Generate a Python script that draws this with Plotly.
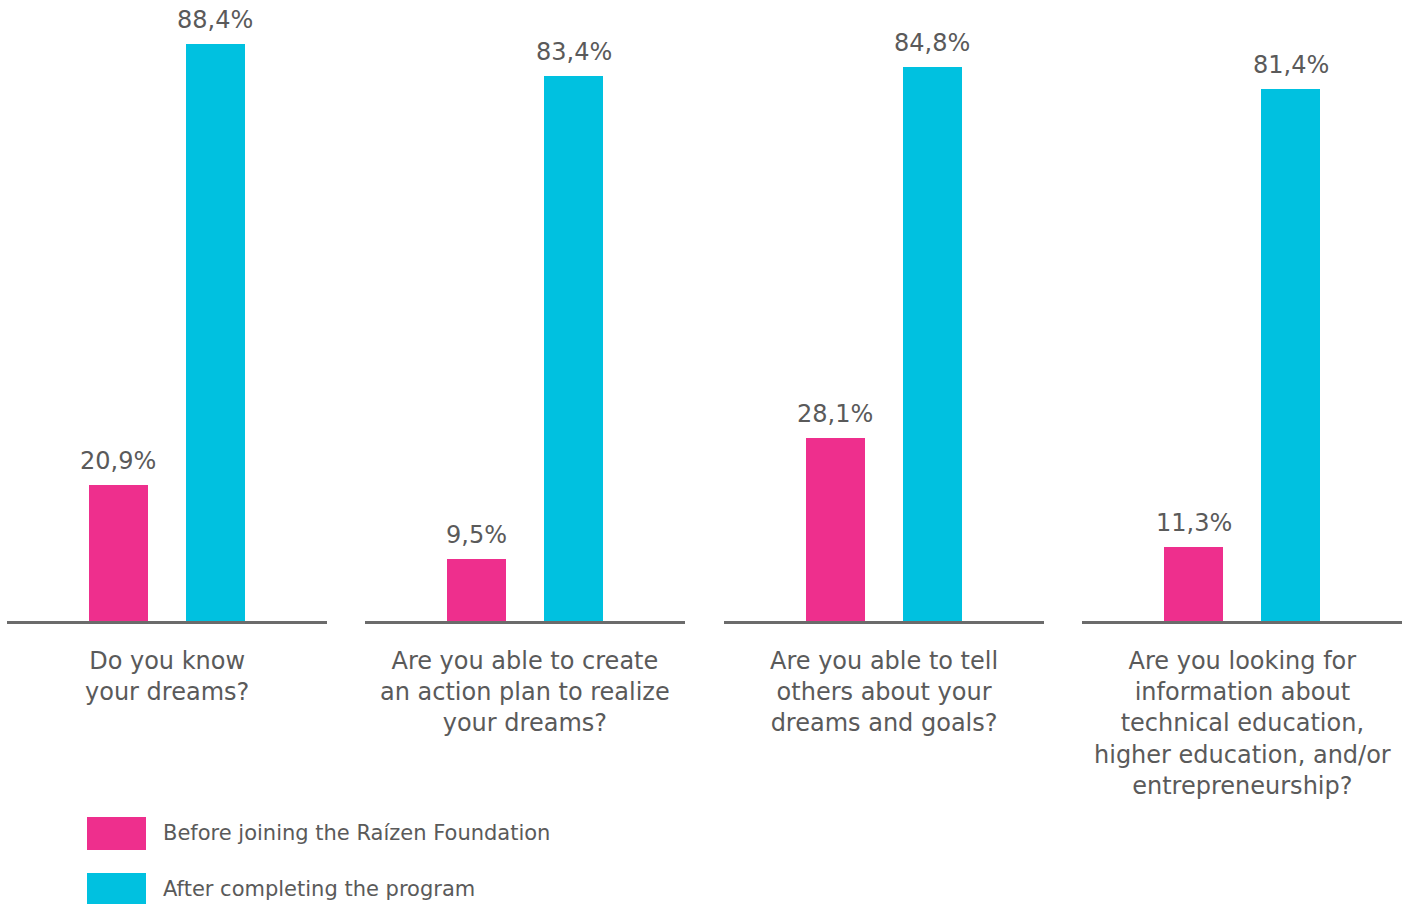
import plotly.graph_objects as go
from plotly.subplots import make_subplots

questions = [
    "Do you know<br>your dreams?",
    "Are you able to create<br>an action plan to realize<br>your dreams?",
    "Are you able to tell<br>others about your<br>dreams and goals?",
    "Are you looking for<br>information about<br>technical education,<br>higher education, and/or<br>entrepreneurship?",
]
series_names = ["Before joining the Raízen Foundation", "After completing the program"]
before = [20.9, 9.5, 28.1, 11.3]
after = [88.4, 83.4, 84.8, 81.4]
colors = ["#EE2F8D", "#00C1E0"]

FONT = "DejaVu Sans"
TXT = "#5a5a5a"

fig = make_subplots(rows=1, cols=4, horizontal_spacing=0.0275, shared_yaxes=False)

for i, q in enumerate(questions):
    vals = [before[i], after[i]]
    fig.add_trace(
        go.Bar(
            x=[0, 1], y=vals, width=0.608, marker=dict(color=colors, line=dict(width=0)),
            showlegend=False, hoverinfo="skip",
        ),
        row=1, col=i + 1,
    )
    xs = "x" if i == 0 else f"x{i+1}"
    ys = "y" if i == 0 else f"y{i+1}"
    for j, v in enumerate(vals):
        fig.add_annotation(
            x=j, y=v, xref=xs, yref=ys, text=f"{v:.1f}%".replace(".", ","),
            showarrow=False, yanchor="bottom", yshift=8,
            font=dict(family=FONT, size=24, color=TXT),
        )
    fig.add_annotation(
        x=0.5, y=0, xref=f"{xs} domain", yref=f"{ys} domain", text=q,
        showarrow=False, yanchor="top", yshift=-24,
        font=dict(family=FONT, size=24, color=TXT),
    )
    fig.update_xaxes(
        range=[-1.1495, 2.1495], showline=True, linecolor="#6b6b6b", linewidth=3,
        showticklabels=False, ticks="", showgrid=False, zeroline=False,
        row=1, col=i + 1,
    )
    fig.update_yaxes(
        range=[0, 95.1], visible=False, showgrid=False, zeroline=False,
        row=1, col=i + 1,
    )

# legend
for k, name in enumerate(series_names):
    fig.add_shape(
        type="rect", xref="paper", yref="paper", xsizemode="pixel", ysizemode="pixel",
        xanchor=0, yanchor=0, x0=80, x1=139, y0=-196 - 56 * k, y1=-229 - 56 * k,
        fillcolor=colors[k], line=dict(width=0),
    )
    fig.add_annotation(
        x=0, y=0, xref="paper", yref="paper", xshift=154, yshift=-212 - 56 * k,
        xanchor="left", yanchor="middle", text=name, showarrow=False,
        font=dict(family=FONT, size=21, color=TXT),
    )

fig.update_layout(
    width=1415, height=904, margin=dict(l=7, r=13, t=0, b=283),
    paper_bgcolor="white", plot_bgcolor="white", bargap=0,
    font=dict(family=FONT, color=TXT),
)

fig.write_html("out.html")
